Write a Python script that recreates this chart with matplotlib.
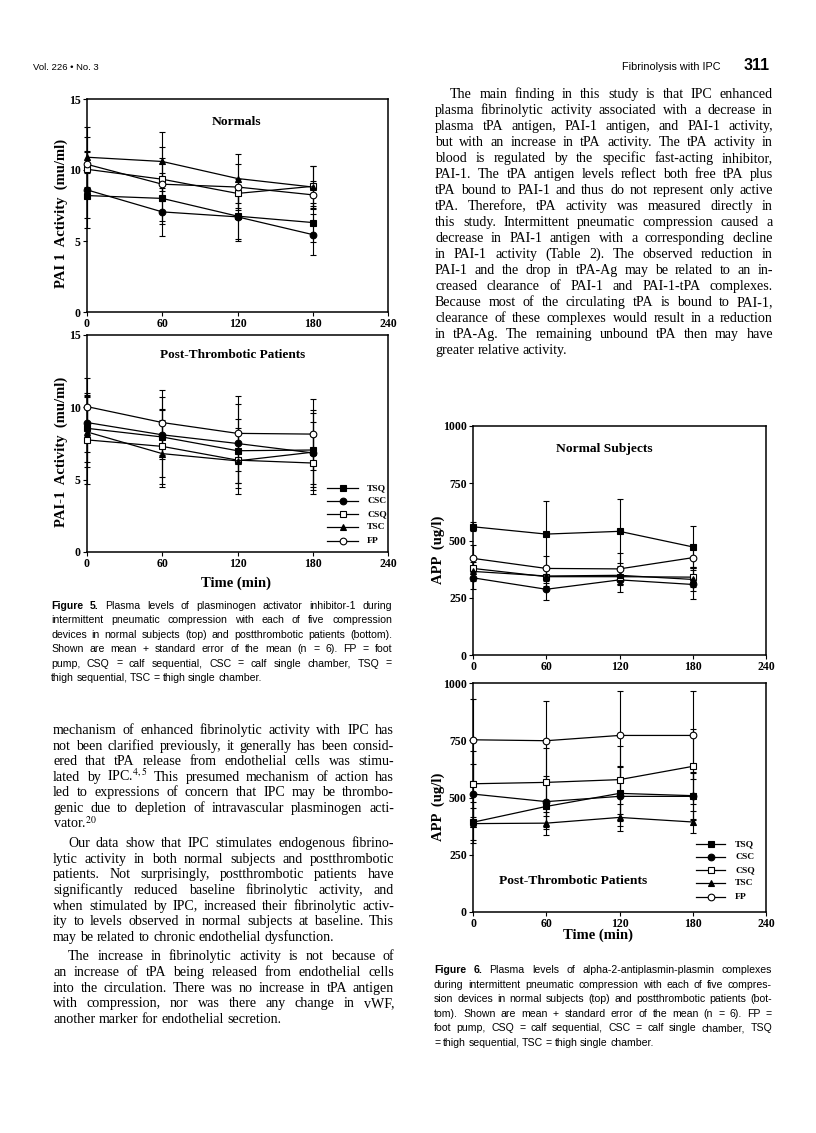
import matplotlib
matplotlib.use("Agg")
import matplotlib.pyplot as plt
from matplotlib.lines import Line2D

plt.rcParams["mathtext.fontset"] = "stix"
plt.rcParams["font.family"] = ["Liberation Serif", "DejaVu Sans"]

W, H = 816, 1133

# ---- data ----
times = [0, 60, 120, 180]
series = ["TSQ", "CSC", "CSQ", "TSC", "FP"]

pai_normals = {"TSQ": [8.2, 8.0, 6.75, 6.3], "CSC": [8.6, 7.05, 6.7, 5.45],
               "CSQ": [10.05, 9.35, 8.35, 8.85], "TSC": [10.9, 10.6, 9.4, 8.8],
               "FP": [10.4, 9.0, 8.8, 8.25]}
pai_normals_se = {"TSQ": [1.6, 1.8, 1.6, 1.4], "CSC": [2.7, 1.7, 1.7, 1.45],
                  "CSQ": [1.3, 1.5, 1.0, 1.4], "TSC": [2.1, 2.1, 1.7, 1.5],
                  "FP": [1.9, 2.6, 1.6, 1.0]}

pai_post = {"TSQ": [8.55, 7.95, 7.0, 7.05], "CSC": [8.95, 8.1, 7.5, 6.85],
            "CSQ": [7.75, 7.3, 6.35, 6.15], "TSC": [8.3, 6.8, 6.3, 6.9],
            "FP": [10.05, 8.95, 8.2, 8.15]}
pai_post_se = {"TSQ": [2.3, 2.75, 2.2, 2.55], "CSC": [2.05, 1.7, 2.7, 2.15],
               "CSQ": [3.05, 2.6, 1.95, 1.85], "TSC": [2.4, 2.3, 2.3, 2.9],
               "FP": [2.0, 2.25, 2.6, 2.45]}

app_normals = {"TSQ": [560, 528, 540, 472], "CSC": [337, 287, 328, 308],
               "CSQ": [378, 342, 342, 340], "TSC": [365, 345, 348, 330],
               "FP": [422, 378, 376, 425]}
app_normals_se = {"TSQ": [20, 143, 140, 90], "CSC": [50, 45, 55, 65],
                  "CSQ": [40, 40, 30, 45], "TSC": [40, 30, 40, 50],
                  "FP": [60, 55, 70, 40]}

app_post = {"TSQ": [392, 461, 518, 508], "CSC": [515, 482, 505, 505],
            "CSQ": [560, 566, 578, 636], "TSC": [386, 388, 413, 393],
            "FP": [752, 748, 771, 771]}
app_post_se = {"TSQ": [90, 100, 120, 100], "CSC": [130, 110, 130, 105],
               "CSQ": [145, 148, 148, 165], "TSC": [70, 50, 60, 50],
               "FP": [180, 175, 195, 192]}

styles = {"TSQ": dict(marker="s", mfc="black"), "CSC": dict(marker="o", mfc="black"),
          "CSQ": dict(marker="s", mfc="white"), "TSC": dict(marker="^", mfc="black"),
          "FP": dict(marker="o", mfc="white")}

fig = plt.figure(figsize=(W / 100, H / 100), dpi=100)
renderer = fig.canvas.get_renderer()


def fx(x):
    return x / W


def fy(y):
    return 1 - y / H


def add_axes(l, t, r, b):
    return fig.add_axes([fx(l), fy(b), (r - l) / W, (b - t) / H])


def panel(ax, means, errs, ymax, yticks):
    for name in series:
        ax.errorbar(times, means[name], yerr=errs[name], fmt="none", ecolor="black",
                    elinewidth=0.8, capsize=2.5, capthick=0.8, zorder=3, clip_on=False)
    for name in series:
        ax.plot(times, means[name], color="black", lw=0.9, ms=4.8, mec="black", mew=0.8,
                zorder=4, clip_on=False, **styles[name])
    ax.set_xlim(0, 240)
    ax.set_ylim(0, ymax)
    ax.set_xticks([0, 60, 120, 180, 240])
    ax.set_yticks(yticks)
    ax.tick_params(direction="out", length=3, width=0.8, pad=1.5)
    for lab in ax.get_xticklabels() + ax.get_yticklabels():
        lab.set_fontweight("bold")
        lab.set_fontsize(8.5)
    for s in ax.spines.values():
        s.set_linewidth(1.1)


def legend(x0, x1, xl, ys):
    for name, y in zip(series, ys):
        fig.add_artist(Line2D([fx(x0), fx(x1)], [fy(y), fy(y)], color="black", lw=0.9,
                              transform=fig.transFigure))
        fig.add_artist(Line2D([fx((x0 + x1) / 2)], [fy(y)], color="black", ms=4.8, mec="black",
                              mew=0.8, transform=fig.transFigure, **styles[name]))
        fig.text(fx(xl), fy(y), name, fontsize=6.8, weight="bold", va="center")


def ctext(x, y, s, size, **kw):
    fig.text(fx(x), fy(y), s, fontsize=size, weight="bold", ha="center", va="center", **kw)


# ---- charts ----
ax1 = add_axes(87, 99, 388, 312)
panel(ax1, pai_normals, pai_normals_se, 15, [0, 5, 10, 15])
ctext(237, 122, "Normals", 9.7)
ctext(61, 213, "PAI 1  Activity  (mu/ml)", 10.5, rotation=90)

ax2 = add_axes(87, 335, 388, 552)
panel(ax2, pai_post, pai_post_se, 15, [0, 5, 10, 15])
ctext(233, 355, "Post-Thrombotic Patients", 9.5)
ctext(61, 452, "PAI-1  Activity  (mu/ml)", 10.5, rotation=90)
ctext(236, 583, "Time (min)", 10.5)
legend(327, 358, 367, [488, 501, 514, 527, 541])

ax3 = add_axes(473, 426, 766, 655)
panel(ax3, app_normals, app_normals_se, 1000, [0, 250, 500, 750, 1000])
ctext(604, 449, "Normal Subjects", 9.7)
ctext(438, 550, "APP  (ug/l)", 10.5, rotation=90)

ax4 = add_axes(473, 683, 766, 912)
panel(ax4, app_post, app_post_se, 1000, [0, 250, 500, 750, 1000])
ctext(573, 881, "Post-Thrombotic Patients", 9.7)
ctext(438, 807, "APP  (ug/l)", 10.5, rotation=90)
ctext(598, 935, "Time (min)", 10.5)
legend(696, 725, 735, [844, 857, 870, 883, 897])


# ---- page text ----
def para(lines, x0, x1, y, step, size, family, indent=0, bold_first=0):
    space = 0.25 * size * 100 / 72
    for i, line in enumerate(lines):
        words = line.split(" ")
        arts = []
        for j, w in enumerate(words):
            weight = "bold" if (i == 0 and j < bold_first) else "normal"
            arts.append(fig.text(0, fy(y), w, fontsize=size, family=family,
                                 weight=weight, va="baseline", ha="left"))
        widths = [a.get_window_extent(renderer).width for a in arts]
        start = x0 + (indent if i == 0 else 0)
        if i == len(lines) - 1 or len(words) == 1:
            gap = space
        else:
            gap = (x1 - start - sum(widths)) / (len(words) - 1)
        x = start
        for a, wd in zip(arts, widths):
            a.set_x(fx(x))
            x += wd + gap
        y += step
    return y


serif = ["Liberation Serif", "DejaVu Serif"]
sans = ["Liberation Sans", "DejaVu Sans"]

fig.text(fx(33), fy(70), "Vol. 226 \u2022 No. 3", fontsize=6.8, family=sans, va="baseline")
fig.text(fx(720), fy(70), "Fibrinolysis with IPC", fontsize=7.8, family=sans,
         va="baseline", ha="right")
fig.text(fx(770), fy(70), "311", fontsize=11.5, family=sans, weight="bold",
         va="baseline", ha="right")

right_par = [
    "The main finding in this study is that IPC enhanced",
    "plasma fibrinolytic activity associated with a decrease in",
    "plasma tPA antigen, PAI-1 antigen, and PAI-1 activity,",
    "but with an increase in tPA activity. The tPA activity in",
    "blood is regulated by the specific fast-acting inhibitor,",
    "PAI-1. The tPA antigen levels reflect both free tPA plus",
    "tPA bound to PAI-1 and thus do not represent only active",
    "tPA. Therefore, tPA activity was measured directly in",
    "this study. Intermittent pneumatic compression caused a",
    "decrease in PAI-1 antigen with a corresponding decline",
    "in PAI-1 activity (Table 2). The observed reduction in",
    "PAI-1 and the drop in tPA-Ag may be related to an in-",
    "creased clearance of PAI-1 and PAI-1-tPA complexes.",
    "Because most of the circulating tPA is bound to PAI-1,",
    "clearance of these complexes would result in a reduction",
    "in tPA-Ag. The remaining unbound tPA then may have",
    "greater relative activity.",
]
para(right_par, 435, 773, 98, 16.0, 10.1, serif, indent=15)

left_p1 = [
    "mechanism of enhanced fibrinolytic activity with IPC has",
    "not been clarified previously, it generally has been consid-",
    "ered that tPA release from endothelial cells was stimu-",
    "lated by IPC.$^{4,5}$ This presumed mechanism of action has",
    "led to expressions of concern that IPC may be thrombo-",
    "genic due to depletion of intravascular plasminogen acti-",
    "vator.$^{20}$",
]
left_p2 = [
    "Our data show that IPC stimulates endogenous fibrino-",
    "lytic activity in both normal subjects and postthrombotic",
    "patients. Not surprisingly, postthrombotic patients have",
    "significantly reduced baseline fibrinolytic activity, and",
    "when stimulated by IPC, increased their fibrinolytic activ-",
    "ity to levels observed in normal subjects at baseline. This",
    "may be related to chronic endothelial dysfunction.",
]
left_p3 = [
    "The increase in fibrinolytic activity is not because of",
    "an increase of tPA being released from endothelial cells",
    "into the circulation. There was no increase in tPA antigen",
    "with compression, nor was there any change in vWF,",
    "another marker for endothelial secretion.",
]
y = para(left_p1, 53, 394, 734, 15.6, 10.1, serif)
y = para(left_p2, 53, 394, y + 4, 15.6, 10.1, serif, indent=15)
para(left_p3, 53, 394, y + 4, 15.6, 10.1, serif, indent=15)

cap5 = [
    "Figure 5. Plasma levels of plasminogen activator inhibitor-1 during",
    "intermittent pneumatic compression with each of five compression",
    "devices in normal subjects (top) and postthrombotic patients (bottom).",
    "Shown are mean + standard error of the mean (n = 6). FP = foot",
    "pump, CSQ = calf sequential, CSC = calf single chamber, TSQ =",
    "thigh sequential, TSC = thigh single chamber.",
]
para(cap5, 51, 392, 609, 14.4, 7.6, sans, bold_first=2)

cap6 = [
    "Figure 6. Plasma levels of alpha-2-antiplasmin-plasmin complexes",
    "during intermittent pneumatic compression with each of five compres-",
    "sion devices in normal subjects (top) and postthrombotic patients (bot-",
    "tom). Shown are mean + standard error of the mean (n = 6). FP =",
    "foot pump, CSQ = calf sequential, CSC = calf single chamber, TSQ",
    "= thigh sequential, TSC = thigh single chamber.",
]
para(cap6, 434, 772, 973, 14.6, 7.6, sans, bold_first=2)

fig.savefig("out.png", dpi=100, facecolor="white")
